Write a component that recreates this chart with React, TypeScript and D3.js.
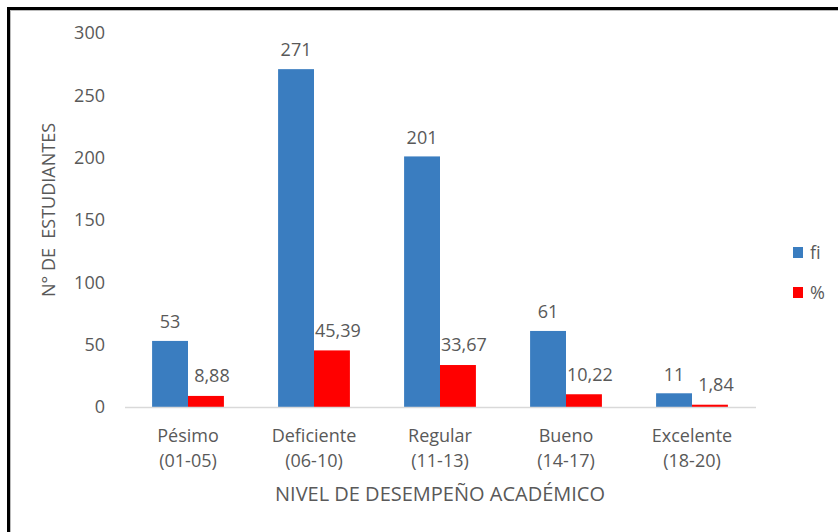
import React from "react";
import * as d3 from "d3";

const categories = ["Pésimo|(01-05)", "Deficiente|(06-10)", "Regular|(11-13)", "Bueno|(14-17)", "Excelente|(18-20)"];
const fiValues = [53, 271, 201, 61, 11];
const pctValues = [8.88, 45.39, 33.67, 10.22, 1.84];
const pctLabels = ["8,88", "45,39", "33,67", "10,22", "1,84"];
const yTicks = [0, 50, 100, 150, 200, 250, 300];
const seriesNames = ["fi", "%"];

const W = 838;
const H = 532;
const FONT = "'Open Sans', 'Noto Sans', sans-serif";
const TEXT = "#595959";
const BLUE = "#3a7dc0";
const RED = "#ff0000";

const App = () => {
  const margin = { left: 125, right: 83, top: 33, bottom: 125 };
  const x = d3
    .scaleBand()
    .domain(categories)
    .range([margin.left, W - margin.right])
    .paddingInner(0.43)
    .paddingOuter(0.215);
  const y = d3.scaleLinear().domain([0, 300]).range([H - margin.bottom, margin.top]);
  const inner = d3.scaleBand().domain(seriesNames).range([0, x.bandwidth()]);
  const colors = [BLUE, RED];
  const base = y(0);

  return (
    <div style={{ position: "absolute", left: 0, top: 0 }}>
      <svg width={W} height={H} style={{ display: "block", background: "#fff" }} fontFamily={FONT}>
        {/* outer frame */}
        <rect x={8.5} y={8.5} width={W + 20} height={H + 20} fill="none" stroke="#000" strokeWidth={3} />
        <rect x={10.5} y={10.5} width={W + 20} height={H + 20} fill="none" stroke="#bbb" strokeWidth={1} />

        {/* y tick labels */}
        {yTicks.map((t) => (
          <text key={t} x={105} y={y(t)} dy="0.35em" textAnchor="end" fontSize={18} fill={TEXT}>
            {t}
          </text>
        ))}

        {/* bars */}
        {categories.map((c, i) => {
          const x0 = x(c)!;
          return (
            <g key={c}>
              {[fiValues[i], pctValues[i]].map((v, s) => (
                <rect
                  key={s}
                  x={x0 + inner(seriesNames[s])!}
                  y={y(v)}
                  width={inner.bandwidth()}
                  height={base - y(v)}
                  fill={colors[s]}
                />
              ))}
              <text
                x={x0 + inner("fi")! + inner.bandwidth() / 2}
                y={y(fiValues[i]) - 19}
                dy="0.35em"
                textAnchor="middle"
                fontSize={18}
                fill={TEXT}
              >
                {fiValues[i]}
              </text>
              <text
                x={x0 + inner("%")! + inner.bandwidth() / 2 + 6}
                y={y(pctValues[i]) - 20}
                dy="0.35em"
                textAnchor="middle"
                fontSize={18}
                fill={TEXT}
              >
                {pctLabels[i]}
              </text>
              {c.split("|").map((line, k) => (
                <text
                  key={k}
                  x={x0 + x.bandwidth() / 2}
                  y={436 + k * 25}
                  dy="0.35em"
                  textAnchor="middle"
                  fontSize={18}
                  fill={TEXT}
                >
                  {line}
                </text>
              ))}
            </g>
          );
        })}

        {/* baseline */}
        <line x1={margin.left} x2={W - margin.right + 1} y1={base + 0.5} y2={base + 0.5} stroke="#d9d9d9" strokeWidth={1.5} />

        {/* axis titles */}
        <text x={440} y={494} dy="0.35em" textAnchor="middle" fontSize={20} fill={TEXT}>
          NIVEL DE DESEMPEÑO ACADÉMICO
        </text>
        <text
          transform={`translate(49,210) rotate(-90)`}
          dy="0.35em"
          textAnchor="middle"
          fontSize={18}
          fill={TEXT}
          style={{ whiteSpace: "pre" }}
        >
          {"N° DE  ESTUDIANTES"}
        </text>

        {/* legend */}
        {seriesNames.map((s, i) => (
          <g key={s} transform={`translate(793,${247 + i * 40})`}>
            <rect width={10} height={11} fill={colors[i]} />
            <text x={17} y={5.5} dy="0.35em" fontSize={18} fill={TEXT}>
              {s}
            </text>
          </g>
        ))}
      </svg>
    </div>
  );
};

export default App;
